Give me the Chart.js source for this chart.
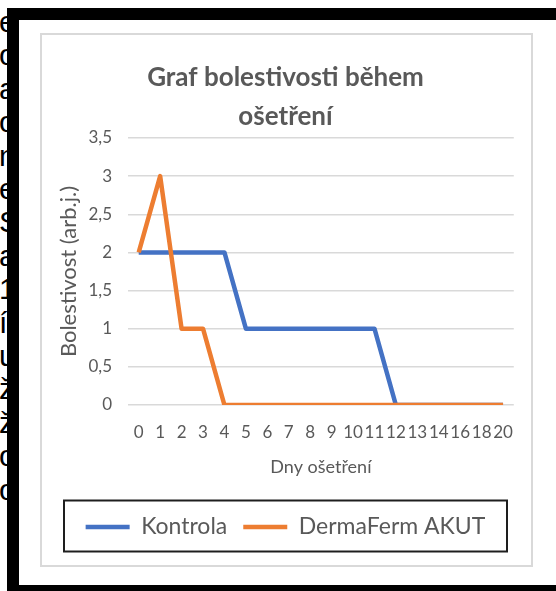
<!DOCTYPE html>
<html>
<head>
<meta charset="utf-8">
<script src="https://cdn.jsdelivr.net/npm/chart.js@4/dist/chart.umd.min.js"></script>
<style>
  body { margin: 0; width: 556px; height: 591px; overflow: hidden; position: relative; background: #fff; }
  #behind { position: absolute; left: -1px; top: 5px; font: 30px/33.4px "Liberation Sans", Arial, sans-serif; color: #000; }
  #frame { position: absolute; left: 7px; top: 8px; width: 600px; height: 565px; border: 12px solid #000; border-right: none; background: #fff; }
  #box { position: absolute; left: 40px; top: 33px; width: 489px; height: 530px; border: 2px solid #d9d9d9; background: #fff; }
  canvas { display: block; }
</style>
</head>
<body>
<div id="behind">e<br>o<br>a<br>o<br>n<br>e<br>S<br>a<br>1<br>í<br>u<br>ž<br>ž<br>o<br>o</div>
<div id="frame"></div>
<div id="box"><canvas id="chart" width="489" height="530"></canvas></div>
<script>
const days = ['0', '1', '2', '3', '4', '5', '6', '7', '8', '9', '10', '11', '12', '13', '14', '16', '18', '20'];
const kontrola = [2, 2, 2, 2, 2, 1, 1, 1, 1, 1, 1, 1, 0, 0, 0, 0, 0, 0];
const dermaFerm = [2, 3, 1, 1, 0, 0, 0, 0, 0, 0, 0, 0, 0, 0, 0, 0, 0, 0];
const yTickLabels = ['0', '0,5', '1', '1,5', '2', '2,5', '3', '3,5'];

const gray = '#595959';
Chart.defaults.font.family = 'Lato, "Open Sans", sans-serif';

// box round the legend, like in Excel
const legendBox = {
  id: 'legendBox',
  afterDraw(chart) {
    const lg = chart.legend;
    const ctx = chart.ctx;
    ctx.save();
    ctx.strokeStyle = '#1e1e1e';
    ctx.lineWidth = 2;
    ctx.strokeRect(22, lg.top + 1, chart.width - 46, lg.height + 2);
    ctx.restore();
  }
};

new Chart(document.querySelector('#chart'), {
  type: 'line',
  data: {
    labels: days,
    datasets: [
      {
        label: 'Kontrola',
        data: kontrola,
        borderColor: '#4472C4',
        backgroundColor: '#4472C4',
        borderWidth: 4.5,
        pointRadius: 0,
        borderJoinStyle: 'round',
        order: 1
      },
      {
        label: 'DermaFerm AKUT',
        data: dermaFerm,
        borderColor: '#ED7D31',
        backgroundColor: '#ED7D31',
        borderWidth: 4.5,
        pointRadius: 0,
        borderJoinStyle: 'round',
        order: 0
      }
    ]
  },
  options: {
    responsive: false,
    animation: false,
    layout: { padding: { left: 8, right: 10, top: 0, bottom: 16.5 } },
    plugins: {
      tooltip: { enabled: false },
      title: {
        display: true,
        text: ['Graf bolestivosti během', 'ošetření'],
        color: gray,
        font: { size: 26, weight: 'bold', lineHeight: 1.5 },
        padding: { top: 23.5, bottom: 1.5 }
      },
      legend: {
        position: 'bottom',
        labels: {
          color: gray,
          font: { size: 23 },
          boxWidth: 44,
          boxHeight: 4.5,
          padding: 16,
          sort: (a, b) => a.datasetIndex - b.datasetIndex,
          generateLabels: (chart) => Chart.defaults.plugins.legend.labels.generateLabels(chart)
            .map(item => Object.assign(item, { lineWidth: 0 }))
        }
      }
    },
    scales: {
      x: {
        offset: true,
        grid: { display: false, drawTicks: false },
        border: { display: false },
        ticks: { color: gray, font: { size: 17 }, padding: 17.8, maxRotation: 0, autoSkip: false },
        title: { display: true, text: 'Dny ošetření', color: gray, font: { size: 18 }, padding: { top: 0, bottom: 21.7 } },
        afterFit: (s) => { s.height = 94.5; }
      },
      y: {
        min: 0,
        max: 3.5,
        grid: { color: '#d9d9d9', lineWidth: 1.5, drawTicks: false },
        border: { display: false },
        ticks: {
          stepSize: 0.5,
          color: gray,
          font: { size: 17 },
          padding: 16,
          callback: (value, index) => yTickLabels[index]
        },
        title: { display: true, text: 'Bolestivost (arb.j.)', color: gray, font: { size: 22, lineHeight: 1 }, padding: { top: 7.5, bottom: 0 } },
        afterFit: (s) => { s.width = 78; }
      }
    }
  },
  plugins: [legendBox]
});
</script>
</body>
</html>
